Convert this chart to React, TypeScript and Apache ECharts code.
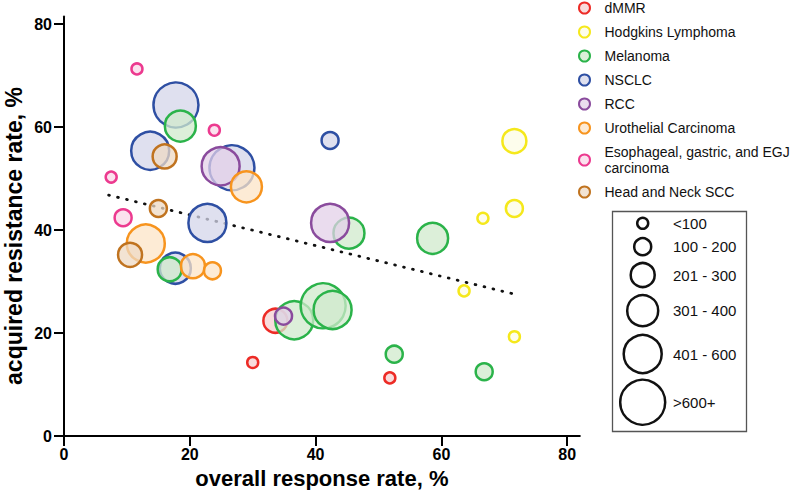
import React, { useEffect, useRef } from 'react';
import * as echarts from 'echarts';

const FONT = 'Arial, "Liberation Sans", Helvetica, sans-serif';

// ---- data ----
const categories = [
  'dMMR',
  'Hodgkins Lymphoma',
  'Melanoma',
  'NSCLC',
  'RCC',
  'Urothelial Carcinoma',
  'Esophageal, gastric, and EGJ carcinoma',
  'Head and Neck SCC',
];

// [overall response rate %, acquired resistance rate %, enrollment size class]
const dMMR = [[33.6, 22.4, 2], [30.0, 14.3, 0], [51.8, 11.3, 0]];
const hodgkins = [[71.6, 57.3, 2], [71.6, 44.2, 1], [66.6, 42.3, 0], [63.6, 28.2, 0], [71.6, 19.3, 0]];
const melanoma = [
  [18.5, 60.2, 3], [45.3, 39.4, 3], [16.8, 32.4, 2], [36.6, 22.5, 4], [41.2, 25.3, 5],
  [42.7, 24.5, 4], [58.6, 38.4, 3], [52.5, 15.9, 1], [66.8, 12.5, 1],
];
const nsclc = [[17.8, 64.3, 5], [13.7, 55.4, 4], [26.7, 52.1, 5], [42.3, 57.4, 1], [22.8, 41.4, 4], [17.7, 32.6, 3]];
const rcc = [[24.9, 52.4, 4], [42.3, 41.4, 4], [34.9, 23.3, 1]];
const urothelial = [[29.0, 48.4, 3], [13.0, 37.4, 4], [20.5, 33.0, 2], [23.6, 32.1, 1]];
const esophageal = [[11.6, 71.3, 0], [23.9, 59.4, 0], [7.5, 50.3, 0], [9.4, 42.4, 1]];
const headNeck = [[16.0, 54.3, 2], [15.0, 44.2, 1], [10.5, 35.2, 2]];

const categoryData = [dMMR, hodgkins, melanoma, nsclc, rcc, urothelial, esophageal, headNeck];

const sizeLabels = ['<100', '100 - 200', '201 - 300', '301 - 400', '401 - 600', '>600+'];

// dotted trend line end points
const trendX = [7.1, 71.5];
const trendY = [46.8, 27.6];

const xTicks = [0, 20, 40, 60, 80];
const yTicks = [0, 20, 40, 60, 80];

// ---- styling ----
const strokeColors = ['#ed2b26', '#f5e81c', '#2bb34a', '#2e4fa3', '#8a4b9d', '#f7941e', '#ec3a8f', '#c0731f'];
const fillColors = [
  'rgba(246,208,208,0.75)',
  'rgba(252,252,230,0.75)',
  'rgba(208,234,204,0.75)',
  'rgba(212,214,234,0.75)',
  'rgba(227,208,232,0.75)',
  'rgba(252,228,199,0.75)',
  'rgba(250,216,232,0.75)',
  'rgba(238,218,196,0.75)',
];
const drawOrder = [3, 0, 1, 2, 4, 5, 6, 7];
const sizePx = [11, 17, 24, 31, 38, 45];
const sizeRowY = [223.3, 246.7, 275, 310.7, 354, 402.3];

export default function App() {
  const ref = useRef<HTMLDivElement>(null);

  useEffect(() => {
    if (!ref.current) return;
    const chart = echarts.init(ref.current, null, { renderer: 'svg' });

    const scatterSeries = drawOrder.map((ci) => ({
      type: 'scatter',
      name: categories[ci],
      data: categoryData[ci],
      symbol: 'circle',
      symbolSize: (v: number[]) => sizePx[v[2]],
      itemStyle: {
        color: fillColors[ci],
        borderColor: strokeColors[ci],
        borderWidth: 2.5,
        opacity: 1,
      },
      emphasis: { disabled: true },
      z: 3,
    }));

    const graphics: any[] = [
      {
        type: 'rect',
        shape: { x: 612.5, y: 211.5, width: 134, height: 220 },
        style: { fill: 'none', stroke: '#555', lineWidth: 1.3 },
      },
      {
        type: 'text',
        x: 14,
        y: 236,
        rotation: Math.PI / 2,
        style: {
          text: 'acquired resistance rate, %',
          fontSize: 23,
          fontWeight: 'bold',
          fontFamily: FONT,
          fill: '#000',
          align: 'center',
          verticalAlign: 'middle',
        },
      },
    ];
    sizeLabels.forEach((lab, i) => {
      graphics.push({
        type: 'circle',
        shape: { cx: 642.7, cy: sizeRowY[i], r: sizePx[i] / 2 },
        style: { fill: 'none', stroke: '#111', lineWidth: 2.5 },
      });
      graphics.push({
        type: 'text',
        x: 673,
        y: sizeRowY[i],
        style: {
          text: lab,
          fontSize: 15,
          fontFamily: FONT,
          fill: '#111',
          align: 'left',
          verticalAlign: 'middle',
        },
      });
    });

    const option: any = {
      animation: false,
      grid: { left: 64, right: 220.2, top: 16.4, bottom: 53.9, containLabel: false, outerBoundsMode: 'none' },
      xAxis: {
        type: 'value',
        min: 0,
        max: 82,
        interval: 20,
        name: 'overall response rate, %',
        nameLocation: 'middle',
        nameGap: 28,
        nameTextStyle: { fontSize: 22, fontWeight: 'bold', color: '#000', fontFamily: FONT },
        axisLine: { show: true, onZero: false, lineStyle: { color: '#000', width: 2 } },
        axisTick: { show: true, length: 10, customValues: xTicks, lineStyle: { color: '#000', width: 2 } },
        axisLabel: {
          customValues: xTicks,
          margin: 10,
          fontSize: 16,
          fontWeight: 'bold',
          color: '#000',
          fontFamily: FONT,
        },
        splitLine: { show: false },
      },
      yAxis: {
        type: 'value',
        min: 0,
        max: 81.5,
        interval: 20,
        axisLine: { show: true, onZero: false, lineStyle: { color: '#000', width: 2 } },
        axisTick: { show: true, length: 10, customValues: yTicks, lineStyle: { color: '#000', width: 2 } },
        axisLabel: {
          customValues: yTicks,
          margin: 12,
          fontSize: 16,
          fontWeight: 'bold',
          color: '#000',
          fontFamily: FONT,
        },
        splitLine: { show: false },
      },
      legend: {
        orient: 'vertical',
        left: 578,
        top: 0,
        padding: 0,
        itemWidth: 30,
        itemHeight: 11,
        itemGap: 8,
        selectedMode: false,
        textStyle: { fontSize: 14, lineHeight: 16, color: '#111', fontFamily: FONT },
        formatter: (n: string) =>
          n === 'Esophageal, gastric, and EGJ carcinoma' ? 'Esophageal, gastric, and EGJ\ncarcinoma' : n,
        data: categories.map((c, i) => ({
          name: c,
          icon: 'circle',
          itemStyle: { color: fillColors[i], borderColor: strokeColors[i], borderWidth: 2 },
        })),
      },
      series: [
        {
          type: 'line',
          name: 'trend',
          data: trendX.map((x, i) => [x, trendY[i]]),
          symbol: 'none',
          silent: true,
          lineStyle: { color: '#111', width: 2.8, type: [0.8, 8.4], cap: 'round' },
          z: 1,
        },
        ...scatterSeries,
      ],
      graphic: graphics,
    };

    chart.setOption(option);
    return () => chart.dispose();
  }, []);

  return (
    <div
      ref={ref}
      style={{ position: 'fixed', left: 0, top: 0, width: 800, height: 490, background: '#fff' }}
    />
  );
}
